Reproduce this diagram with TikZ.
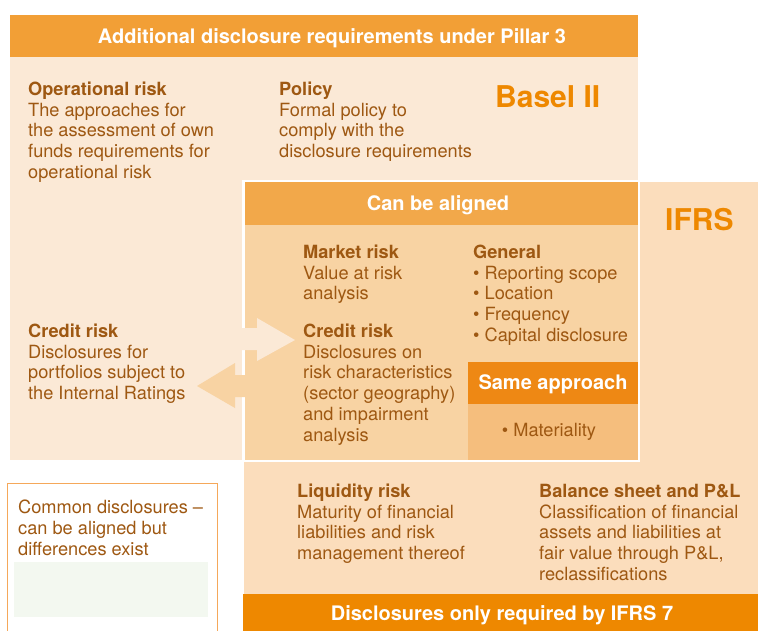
\documentclass[tikz,border=0pt]{standalone}
\usepackage{fontspec}
\setmainfont{TeX Gyre Heros}
\definecolor{topbar}{RGB}{242,159,54}
\definecolor{basel}{RGB}{251,233,214}
\definecolor{canhead}{RGB}{242,168,74}
\definecolor{canbody}{RGB}{248,211,163}
\definecolor{ifrs}{RGB}{251,221,188}
\definecolor{samehead}{RGB}{238,136,20}
\definecolor{samebody}{RGB}{245,190,125}
\definecolor{bottombar}{RGB}{238,136,0}
\definecolor{bigtitle}{RGB}{238,136,0}
\definecolor{txtbrown}{RGB}{158,88,18}
\definecolor{legendline}{RGB}{245,168,90}
\definecolor{legendgreen}{RGB}{243,248,240}
\tikzset{
  txt/.style={anchor=north west, yshift=14.56pt, inner sep=0pt, align=left, text=txtbrown,
    font=\fontsize{18.2}{20.8}\selectfont},
  line1/.style={anchor=base, inner sep=0pt, text=txtbrown,
    font=\fontsize{18.2}{20.8}\selectfont},
  bartitle/.style={anchor=base, inner sep=0pt, text=white,
    font=\fontsize{20}{22}\selectfont\bfseries},
  bigname/.style={anchor=base west, inner sep=0pt, text=bigtitle,
    font=\fontsize{30}{34}\selectfont\bfseries},
}
\newcommand{\hd}[1]{\strut\textbf{#1}}
\begin{document}
\begin{tikzpicture}[x=1pt,y=-1pt]
\useasboundingbox (0,0) rectangle (758,630);
% Basel II area
\fill[basel] (10,15) rectangle (638,460);
\fill[topbar] (10,15) rectangle (638,57);
\node[bartitle] (baseltitle) at (332,43.5) {Additional disclosure requirements under Pillar 3};
% IFRS area
\fill[ifrs, draw=white, line width=2pt] (243,181) rectangle (760,632);
% Can be aligned box
\fill[canbody] (244,181) rectangle (639,461);
\fill[canhead] (244,181) rectangle (639,225);
\fill[samehead] (468,362) rectangle (639,404);
\fill[samebody] (468,404) rectangle (639,461);
\draw[white, line width=2.5pt] (244,181) rectangle (639,461);
% arrows
\fill[basel] (225,328) -- (257,328) -- (257,318) -- (295,340) -- (257,361) -- (257,350) -- (225,350) -- cycle;
\fill[canbody] (250,375) -- (235,375) -- (235,363) -- (197,386) -- (235,408) -- (235,397) -- (250,397) -- cycle;
% bottom bar
\fill[bottombar] (243,594) rectangle (760,632);
% legend
\draw[legendline, line width=1pt] (7,632) -- (7,483) -- (217,483) -- (217,632);
\fill[legendgreen] (14,562) rectangle (208,617);

% texts
\node[bigname] (baselname) at (495,107.5) {Basel II};
\node[bigname] (ifrsname) at (665,230.5) {IFRS};
\node[txt] (oprisk) at (28,95) {\hd{Operational risk}\\The approaches for\\the assessment of own\\funds requirements for\\operational risk};
\node[txt] (policy) at (279,95) {\hd{Policy}\\Formal policy to\\comply with the\\disclosure requirements};
\node[bartitle] (cantitle) at (438,210) {Can be aligned};
\node[txt] (market) at (303,258) {\hd{Market risk}\\Value at risk\\analysis};
\node[txt] (creditin) at (303,337) {\hd{Credit risk}\\Disclosures on\\risk characteristics\\(sector geography)\\and impairment\\analysis};
\node[txt] (general) at (473,258) {\hd{General}\\\textbullet\ Reporting scope\\\textbullet\ Location\\\textbullet\ Frequency\\\textbullet\ Capital disclosure};
\node[bartitle] (sametitle) at (553,389) {Same approach};
\node[line1] (material) at (549,436.5) {\textbullet\ Materiality};
\node[txt] (creditout) at (28,337) {\hd{Credit risk}\\Disclosures for\\portfolios subject to\\the Internal Ratings};
\node[txt] (liquidity) at (297,497) {\hd{Liquidity risk}\\Maturity of financial\\liabilities and risk\\management thereof};
\node[txt] (balance) at (539,497) {\hd{Balance sheet and P\&L}\\Classification of financial\\assets and liabilities at\\fair value through P\&L,\\reclassifications};
\node[bartitle] (bottomtitle) at (502,620) {Disclosures only required by IFRS 7};
\node[txt] (legendtext) at (18,513.5) {\strut Common disclosures --\\can be aligned but\\differences exist};
\end{tikzpicture}
\end{document}
